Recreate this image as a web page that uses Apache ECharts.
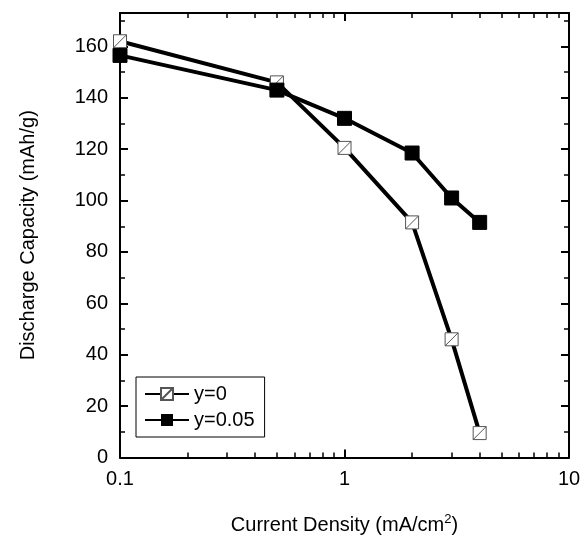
<!DOCTYPE html>
<html>
<head>
<meta charset="utf-8">
<script src="https://cdn.jsdelivr.net/npm/echarts@6/dist/echarts.min.js"></script>
</head>
<body style="margin:0">
<div id="main" style="width:585px;height:540px;"></div>
<script>
var density = [0.1, 0.5, 1, 2, 3, 4];
var capY0 = [162, 146, 120.5, 91.5, 46, 9.5];
var capY005 = [156.5, 143, 132, 118.5, 101, 91.5];

function pairs(xs, ys) { return xs.map(function (x, i) { return [x, ys[i]]; }); }

var font = 'Liberation Sans, Arial, sans-serif';
var openSq = 'path://M0,0H10V10H0Z M0,10L10,0';
var axLine = { show: true, onZero: false, lineStyle: { color: '#000', width: 2 } };
var tick = { inside: true, length: 8, lineStyle: { width: 2, color: '#000' } };
var minor = function (n) { return { show: true, splitNumber: n, length: 5, lineStyle: { width: 1.5, color: '#000' } }; };

var chart = echarts.init(document.getElementById('main'));
chart.setOption({
  animation: false,
  grid: { left: 120, right: 16, top: 13, bottom: 79 },
  legend: {
    orient: 'vertical', left: 136, top: 377, itemGap: 6, padding: [7, 10, 7, 8],
    borderColor: '#000', borderWidth: 1, itemWidth: 44, itemHeight: 15,
    textStyle: { fontFamily: font, fontSize: 20, color: '#000' },
    data: ['y=0', 'y=0.05']
  },
  xAxis: [{
    type: 'log', min: 0.1, max: 10, logBase: 10,
    name: '{a|Current Density (mA/cm}{s|2}{a|)}', nameLocation: 'middle', nameGap: 55,
    nameTextStyle: { rich: { a: { fontFamily: font, fontSize: 20, color: '#000' }, s: { fontFamily: font, fontSize: 13, color: '#000', verticalAlign: 'top', padding: [0, 0, 12, 0] } } },
    axisLine: axLine, axisTick: tick, minorTick: minor(9),
    axisLabel: { fontFamily: font, fontSize: 20, color: '#000', margin: 12 },
    splitLine: { show: false }
  }, {
    type: 'log', min: 0.1, max: 10, logBase: 10, position: 'top',
    axisLine: axLine, axisTick: tick, minorTick: minor(9),
    axisLabel: { show: false }, splitLine: { show: false }
  }],
  yAxis: [{
    type: 'value', min: 0, max: 173, interval: 20,
    name: 'Discharge Capacity (mAh/g)', nameLocation: 'middle', nameGap: 82,
    nameTextStyle: { fontFamily: font, fontSize: 20, color: '#000' },
    axisLine: axLine, axisTick: tick, minorTick: minor(2),
    axisLabel: { fontFamily: font, fontSize: 20, color: '#000', margin: 12, showMaxLabel: false },
    splitLine: { show: false }
  }, {
    type: 'value', min: 0, max: 173, interval: 20, position: 'right',
    axisLine: axLine, axisTick: tick, minorTick: minor(2),
    axisLabel: { show: false }, splitLine: { show: false }
  }],
  series: [{
    name: 'y=0', type: 'line', data: pairs(density, capY0),
    symbol: openSq, symbolSize: 13,
    lineStyle: { color: '#000', width: 4 },
    itemStyle: { color: '#fff', borderColor: '#555', borderWidth: 1 }
  }, {
    name: 'y=0.05', type: 'line', data: pairs(density, capY005),
    symbol: 'rect', symbolSize: 14,
    lineStyle: { color: '#000', width: 4 },
    itemStyle: { color: '#000', borderColor: '#000' }
  }]
});
</script>
</body>
</html>
